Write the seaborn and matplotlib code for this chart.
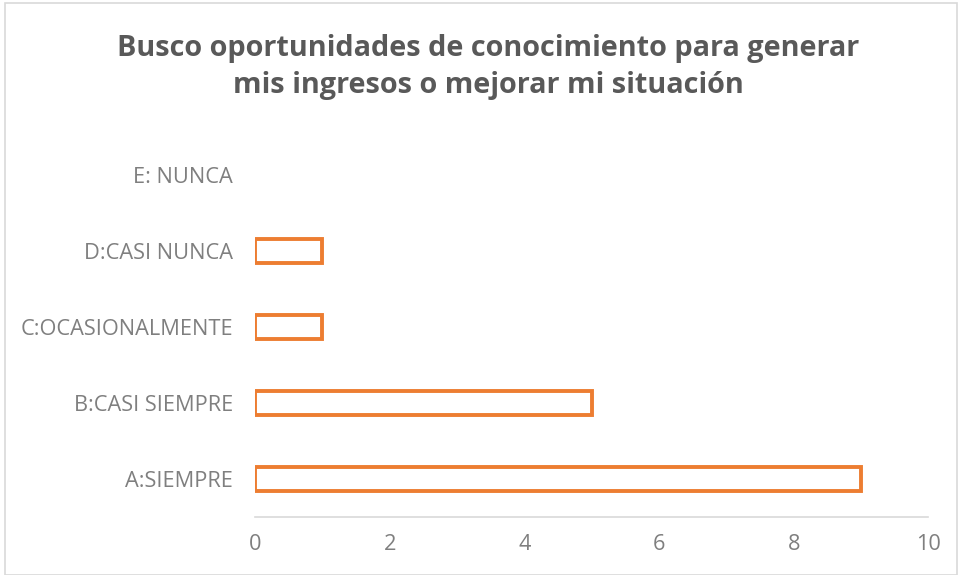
import matplotlib
matplotlib.use("Agg")
import matplotlib.pyplot as plt
import seaborn as sns
import pandas as pd
from matplotlib.patches import Rectangle

categorias = ["E: NUNCA", "D:CASI NUNCA", "C:OCASIONALMENTE", "B:CASI SIEMPRE", "A:SIEMPRE"]
valores = [0, 1, 1, 5, 9]
ticks_x = [0, 2, 4, 6, 8, 10]

titulo = "Busco oportunidades de conocimiento para generar\nmis ingresos o mejorar mi situación"

df = pd.DataFrame({"categoria": categorias, "valor": valores})

sns.set_style("white")
plt.rcParams["font.family"] = ["Open Sans", "DejaVu Sans"]

fig = plt.figure(figsize=(9.59, 5.75), dpi=100)
ax = fig.add_axes([0.266, 0.101, 0.702, 0.661])

sns.barplot(data=df, x="valor", y="categoria", order=categorias, orient="h",
            fill=False, color="#ED7D31", linewidth=2.8, width=0.32, ax=ax)

# make sure outline color is the excel orange and drop the empty bar
for p in ax.patches:
    p.set_edgecolor("#ED7D31")
    if p.get_width() == 0:
        p.set_linewidth(0)

ax.set_xlim(0, 10)
ax.set_xticks(ticks_x)
ax.set_xlabel("")
ax.set_ylabel("")
ax.tick_params(axis="both", length=0, colors="#7F7F7F", labelsize=15.7)
ax.tick_params(axis="x", pad=12)
ax.tick_params(axis="y", pad=16)
for s in ["top", "right", "left"]:
    ax.spines[s].set_visible(False)
ax.spines["bottom"].set_color("#D9D9D9")
ax.spines["bottom"].set_linewidth(1.2)

fig.text(0.509, 0.884, titulo, ha="center", va="center", fontsize=20.8,
         fontweight="bold", color="#595959", linespacing=1.38)

# chart frame
fig.patches.append(Rectangle((0.005, 0.0), 0.993, 0.995, transform=fig.transFigure,
                             fill=False, edgecolor="#D9D9D9", linewidth=1.2))

fig.savefig("out.png", dpi=100)
